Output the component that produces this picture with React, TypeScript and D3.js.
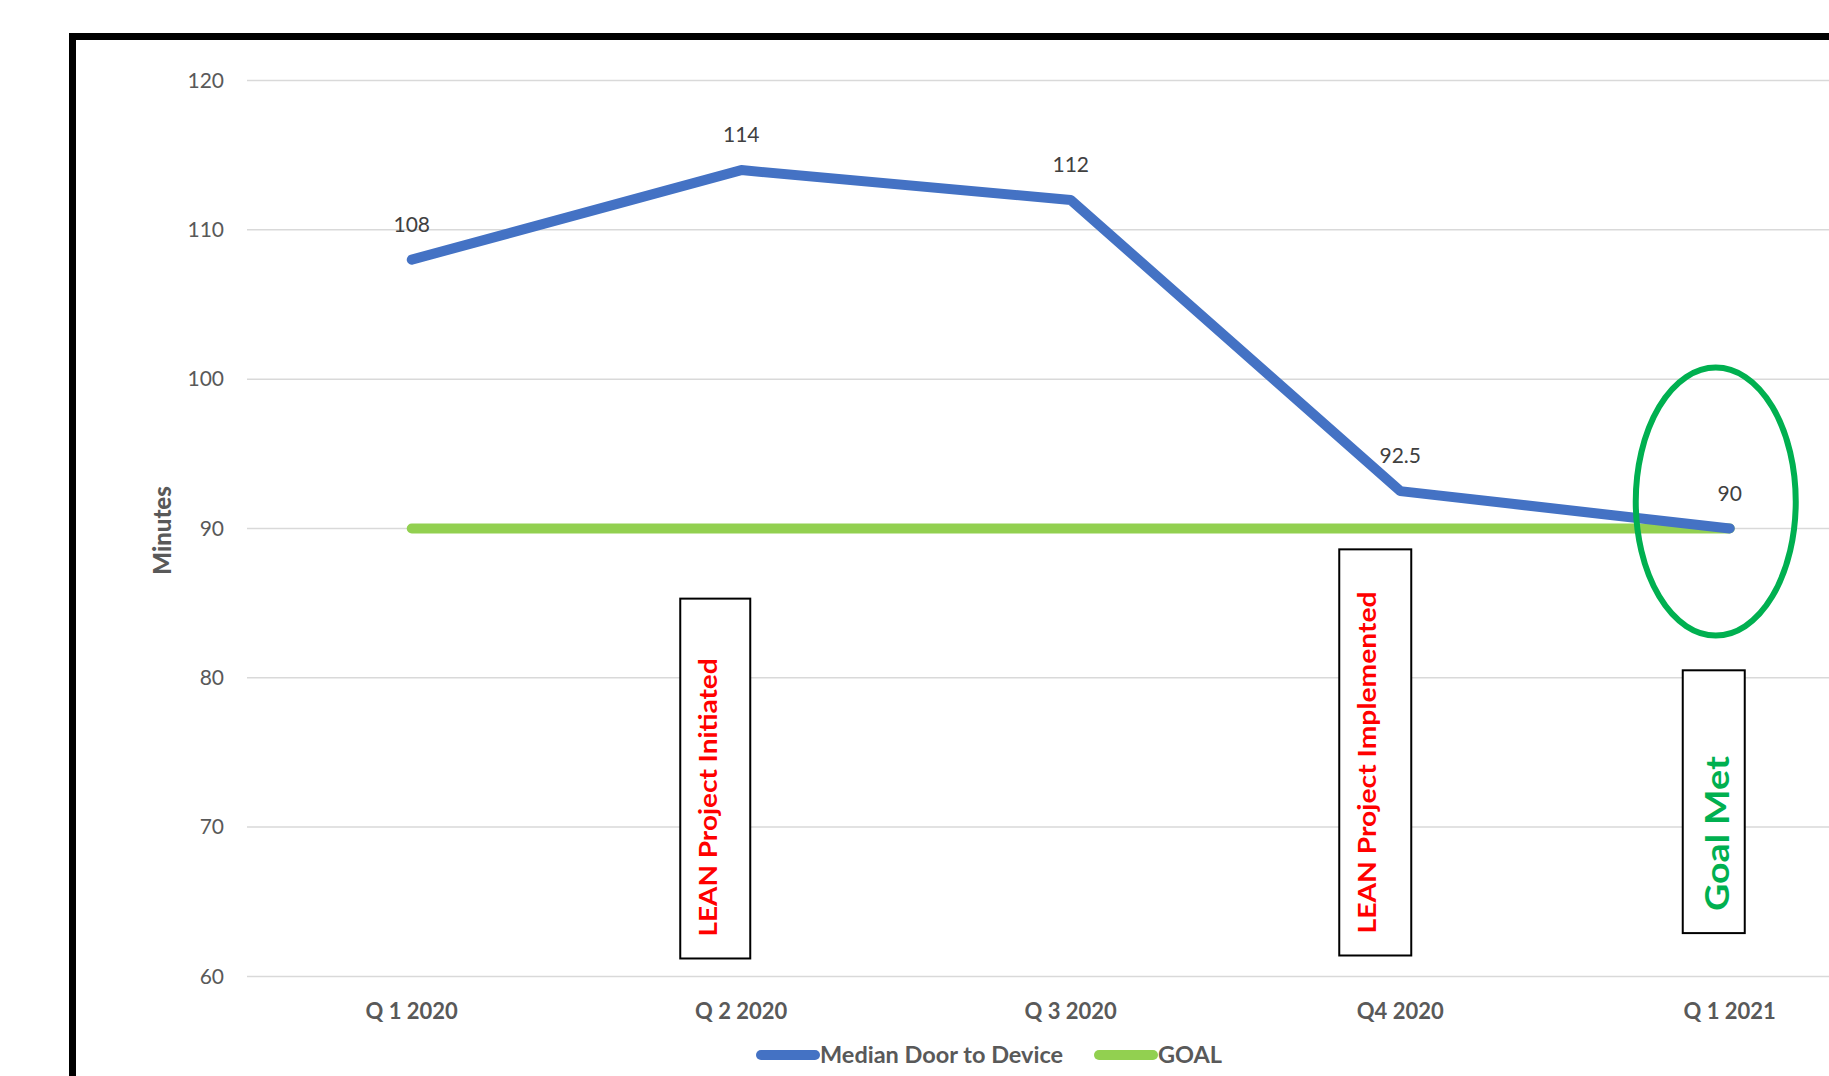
import React from 'react';
import * as d3 from 'd3';

// chart data
const categories = ['Q 1 2020', 'Q 2 2020', 'Q 3 2020', 'Q4 2020', 'Q 1 2021'];
const medianValues = [108, 114, 112, 92.5, 90];
const goalValues = [90, 90, 90, 90, 90];
const yTicks = [60, 70, 80, 90, 100, 110, 120];
const seriesNames = ['Median Door to Device', 'GOAL'];

// annotation callouts, anchored on a category and a value range
const noteTexts = ['LEAN Project Initiated', 'LEAN Project Implemented', 'Goal Met'];
const noteCategories = ['Q 2 2020', 'Q4 2020', 'Q 1 2021'];
const noteTop = [85.3, 88.6, 80.5];
const noteBottom = [61.2, 61.4, 62.9];
const goalMetCategory = 'Q 1 2021';
const goalMetValue = 91.8;

const W = 1829;
const H = 1076;
const FONT = 'Lato, "Open Sans", sans-serif';

const noteStyle = [
  { dx: -26, w: 70, tdx: -8, color: '#FF0000', size: 24, len: 278 },
  { dx: -25, w: 72, tdx: -9, color: '#FF0000', size: 24, len: 342 },
  { dx: -16, w: 62, tdx: 3, color: '#00B050', size: 32, len: 155 },
];

const App = () => {
  const x = d3.scaleBand<string>().domain(categories).range([247, 247 + 5 * 329.5]);
  const cx = (c: string) => (x(c) as number) + x.bandwidth() / 2;
  const y = d3.scaleLinear().domain([60, 120]).range([976.4, 80.5]);

  const line = d3.line<number>()
    .x((d, i) => cx(categories[i]))
    .y(d => y(d));

  const legendX = [756, 1094];
  const legendColors = ['#4472C4', '#92D050'];
  const legendY = 1055;

  return (
    <svg width={W} height={H} style={{ position: 'absolute', left: 0, top: 0, background: '#fff' }}
      fontFamily={FONT}>
      <rect x={0} y={0} width={W} height={H} fill="#fff" />

      {/* gridlines */}
      {yTicks.map(t => (
        <line key={'g' + t} x1={247} x2={W} y1={y(t)} y2={y(t)} stroke="#D9D9D9" strokeWidth={1.5} />
      ))}
      {yTicks.map(t => (
        <text key={'t' + t} x={224} y={y(t)} dy="0.35em" textAnchor="end" fontSize={21} fill="#595959">{t}</text>
      ))}
      <text transform={`translate(163, ${y(90) + 2}) rotate(-90)`} textAnchor="middle" dy="0.35em"
        fontSize={24} fontWeight={900} fill="#595959">Minutes</text>

      {categories.map(c => (
        <text key={c} x={cx(c)} y={1011} dy="0.35em" textAnchor="middle" fontSize={22} fontWeight="bold" fill="#595959">{c}</text>
      ))}

      {/* series */}
      <path d={line(goalValues) as string} fill="none" stroke="#92D050" strokeWidth={10} strokeLinecap="round" />
      <path d={line(medianValues) as string} fill="none" stroke="#4472C4" strokeWidth={10} strokeLinecap="round" strokeLinejoin="round" />

      {medianValues.map((v, i) => (
        <text key={'l' + i} x={cx(categories[i])} y={y(v) - 35} dy="0.35em" textAnchor="middle" fontSize={21} fill="#404040">{v}</text>
      ))}

      {/* callouts */}
      {noteTexts.map((txt, i) => {
        const s = noteStyle[i];
        const left = cx(noteCategories[i]) + s.dx - s.w / 2;
        const top = y(noteTop[i]);
        const bottom = y(noteBottom[i]);
        const tx = left + s.w / 2 + s.tdx;
        return (
          <g key={txt}>
            <rect x={left} y={top} width={s.w} height={bottom - top} fill="#fff" stroke="#000" strokeWidth={2} />
            <text transform={`translate(${tx}, ${bottom - 22}) rotate(-90)`} dominantBaseline="central"
              fontSize={s.size} fontWeight="bold" fill={s.color} textLength={s.len} lengthAdjust="spacingAndGlyphs">{txt}</text>
          </g>
        );
      })}
      <ellipse cx={cx(goalMetCategory) - 14} cy={y(goalMetValue)} rx={80} ry={134} fill="none" stroke="#00B050" strokeWidth={6} />

      {/* legend */}
      {seriesNames.map((n, i) => (
        <g key={n}>
          <line x1={legendX[i] + 5} x2={legendX[i] + 59} y1={legendY} y2={legendY} stroke={legendColors[i]} strokeWidth={10} strokeLinecap="round" />
          <text x={legendX[i] + 64} y={legendY} dy="0.35em" fontSize={23.5} fontWeight="bold" fill="#595959">{n}</text>
        </g>
      ))}

      {/* outer frame */}
      <rect x={72.5} y={36.5} width={W} height={H} fill="none" stroke="#000" strokeWidth={7} />
    </svg>
  );
};

export default App;
